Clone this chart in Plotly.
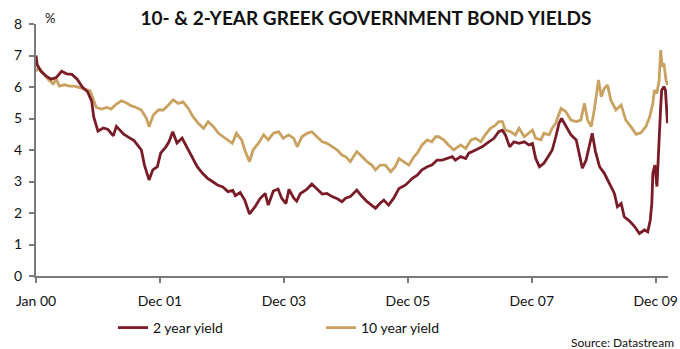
import plotly.graph_objects as go

# ---- data (dates, % yields) ----
dates_2y = [
    "2000-01-03", "2000-01-10", "2000-02-01", "2000-03-01", "2000-04-01", "2000-05-01",
    "2000-06-01", "2000-07-01", "2000-08-01", "2000-09-01", "2000-10-01", "2000-11-01",
    "2000-11-25", "2000-12-07", "2001-01-01", "2001-02-01", "2001-03-01", "2001-04-01",
    "2001-04-19", "2001-06-01", "2001-07-01", "2001-08-01", "2001-09-13", "2001-10-01",
    "2001-10-28", "2001-11-19", "2001-12-16", "2002-01-04", "2002-02-04", "2002-02-22",
    "2002-03-16", "2002-04-10", "2002-05-10", "2002-06-10", "2002-07-07", "2002-08-07",
    "2002-09-07", "2002-10-07", "2002-11-04", "2002-12-04", "2003-01-04", "2003-02-04",
    "2003-03-04", "2003-03-19", "2003-04-16", "2003-05-13", "2003-06-10", "2003-07-13",
    "2003-08-10", "2003-09-10", "2003-09-28", "2003-10-28", "2003-11-25", "2003-12-16",
    "2004-01-10", "2004-01-28", "2004-02-25", "2004-03-13", "2004-04-04", "2004-05-13",
    "2004-06-10", "2004-07-10", "2004-08-10", "2004-09-07", "2004-10-07", "2004-11-07",
    "2004-12-04", "2004-12-25", "2005-01-22", "2005-03-01", "2005-04-01", "2005-05-01",
    "2005-05-28", "2005-06-19", "2005-07-16", "2005-08-07", "2005-09-04", "2005-10-04",
    "2005-11-04", "2005-12-13", "2006-01-22", "2006-02-19", "2006-03-19", "2006-04-19",
    "2006-05-16", "2006-06-16", "2006-07-16", "2006-08-13", "2006-09-13", "2006-10-01",
    "2006-11-01", "2006-12-01", "2006-12-19", "2007-01-28", "2007-03-07", "2007-04-16",
    "2007-05-16", "2007-06-13", "2007-07-04", "2007-07-22", "2007-08-16", "2007-09-10",
    "2007-10-10", "2007-11-10", "2007-12-07", "2007-12-28", "2008-01-16", "2008-02-07",
    "2008-03-04", "2008-04-04", "2008-04-22", "2008-05-13", "2008-06-01", "2008-06-16",
    "2008-07-10", "2008-08-10", "2008-09-10", "2008-09-28", "2008-10-16", "2008-11-07",
    "2008-11-25", "2008-12-13", "2009-01-01", "2009-01-25", "2009-02-22", "2009-03-22",
    "2009-04-22", "2009-05-10", "2009-06-01", "2009-06-19", "2009-07-19", "2009-08-19",
    "2009-09-16", "2009-10-16", "2009-11-04", "2009-11-19", "2009-11-28", "2009-12-04",
    "2009-12-16", "2009-12-28", "2010-01-07", "2010-01-19", "2010-01-25", "2010-02-07",
    "2010-02-16", "2010-02-28",
]
yield_2y = [
    7.0, 6.7, 6.5, 6.35, 6.25, 6.3,
    6.5, 6.42, 6.4, 6.25, 6.0, 5.85,
    5.55, 5.05, 4.6, 4.7, 4.65, 4.45,
    4.75, 4.5, 4.4, 4.3, 4.0, 3.52,
    3.05, 3.37, 3.47, 3.9, 4.1, 4.26,
    4.58, 4.22, 4.38, 4.06, 3.75, 3.47,
    3.26, 3.1, 3.0, 2.89, 2.83, 2.68,
    2.72, 2.55, 2.65, 2.41, 1.97, 2.2,
    2.45, 2.62, 2.25, 2.7, 2.76, 2.47,
    2.3, 2.75, 2.47, 2.38, 2.62, 2.76,
    2.92, 2.75, 2.6, 2.62, 2.52, 2.45,
    2.36, 2.47, 2.52, 2.73, 2.52, 2.36,
    2.25, 2.15, 2.31, 2.41, 2.25, 2.47,
    2.78, 2.89, 3.1, 3.2, 3.37, 3.47,
    3.52, 3.68, 3.68, 3.73, 3.79, 3.68,
    3.79, 3.73, 3.9, 4.0, 4.1, 4.26,
    4.37, 4.58, 4.63, 4.48, 4.1, 4.26,
    4.21, 4.26, 4.16, 4.21, 3.73, 3.47,
    3.58, 3.84, 4.0, 4.42, 4.85, 5.0,
    4.79, 4.48, 4.32, 3.9, 3.42, 3.68,
    4.1, 4.53, 3.95, 3.47, 3.26, 2.94,
    2.62, 2.2, 2.3, 1.88, 1.75, 1.57,
    1.35, 1.46, 1.4, 1.78, 2.31, 3.26,
    3.52, 2.84, 4.21, 5.37, 5.9, 6.01,
    5.9, 4.85,
]

dates_10y = [
    "2000-01-03", "2000-01-19", "2000-02-13", "2000-03-13", "2000-04-13", "2000-05-01",
    "2000-05-19", "2000-06-19", "2000-07-19", "2000-08-16", "2000-09-16", "2000-10-16",
    "2000-11-16", "2000-12-04", "2000-12-22", "2001-01-22", "2001-02-22", "2001-03-19",
    "2001-04-19", "2001-05-19", "2001-06-16", "2001-07-16", "2001-08-04", "2001-09-13",
    "2001-10-13", "2001-10-28", "2001-11-22", "2001-12-22", "2002-01-19", "2002-02-19",
    "2002-03-19", "2002-04-16", "2002-05-16", "2002-06-16", "2002-07-13", "2002-08-13",
    "2002-09-13", "2002-10-10", "2002-11-10", "2002-12-10", "2003-01-07", "2003-02-07",
    "2003-03-01", "2003-03-25", "2003-04-25", "2003-05-13", "2003-06-10", "2003-07-01",
    "2003-08-01", "2003-09-01", "2003-09-28", "2003-10-28", "2003-11-28", "2003-12-25",
    "2004-01-25", "2004-02-25", "2004-03-16", "2004-04-13", "2004-05-13", "2004-06-10",
    "2004-07-10", "2004-08-10", "2004-09-07", "2004-10-07", "2004-11-07", "2004-12-04",
    "2004-12-25", "2005-01-22", "2005-03-01", "2005-04-01", "2005-05-01", "2005-05-28",
    "2005-06-19", "2005-07-16", "2005-08-16", "2005-09-16", "2005-10-13", "2005-11-04",
    "2005-12-01", "2006-01-01", "2006-02-01", "2006-02-19", "2006-03-19", "2006-04-19",
    "2006-05-16", "2006-06-07", "2006-06-25", "2006-07-25", "2006-08-22", "2006-09-22",
    "2006-11-01", "2006-12-01", "2007-01-01", "2007-01-28", "2007-02-28", "2007-03-25",
    "2007-04-25", "2007-05-25", "2007-06-13", "2007-07-04", "2007-07-22", "2007-08-22",
    "2007-09-19", "2007-10-10", "2007-11-10", "2007-12-07", "2007-12-28", "2008-01-16",
    "2008-02-16", "2008-03-04", "2008-04-04", "2008-04-22", "2008-05-13", "2008-05-19",
    "2008-06-13", "2008-07-10", "2008-08-10", "2008-09-10", "2008-10-07", "2008-10-28",
    "2008-11-16", "2008-12-07", "2008-12-25", "2009-01-19", "2009-02-04", "2009-02-22",
    "2009-03-13", "2009-04-01", "2009-05-01", "2009-06-01", "2009-06-28", "2009-07-28",
    "2009-08-28", "2009-09-25", "2009-10-25", "2009-11-16", "2009-12-04", "2009-12-13",
    "2009-12-28", "2010-01-10", "2010-01-19", "2010-01-28", "2010-02-07", "2010-02-19",
    "2010-02-28",
]
yield_10y = [
    6.5, 6.62, 6.45, 6.25, 6.1, 6.25,
    6.03, 6.07, 6.03, 6.03, 5.98, 5.93,
    5.88, 5.62, 5.35, 5.3, 5.35, 5.3,
    5.46, 5.56, 5.5, 5.4, 5.37, 5.27,
    5.0, 4.74, 5.11, 5.27, 5.27, 5.43,
    5.59, 5.48, 5.53, 5.32, 5.06, 4.85,
    4.69, 4.9, 4.74, 4.53, 4.42, 4.32,
    4.21, 4.53, 4.32, 4.0, 3.63, 4.0,
    4.21, 4.48, 4.32, 4.53, 4.58, 4.37,
    4.48, 4.37, 4.1, 4.42, 4.53, 4.58,
    4.42, 4.26, 4.21, 4.1, 4.0, 3.84,
    3.79, 3.63, 3.95, 3.79, 3.63, 3.52,
    3.37, 3.52, 3.52, 3.31, 3.47, 3.73,
    3.63, 3.52, 3.79, 3.9, 4.16, 4.32,
    4.26, 4.42, 4.42, 4.32, 4.16, 4.0,
    4.16, 4.05, 4.32, 4.37, 4.26, 4.48,
    4.69, 4.79, 4.9, 4.9, 4.63, 4.58,
    4.48, 4.69, 4.42, 4.53, 4.63, 4.37,
    4.32, 4.53, 4.48, 4.69, 4.85, 4.95,
    5.32, 5.22, 4.95, 4.9, 4.95, 5.48,
    4.95, 4.74, 5.27, 6.22, 5.69, 5.96,
    6.06, 5.59, 5.27, 5.43, 4.95, 4.74,
    4.5, 4.55, 4.75, 5.06, 5.48, 5.9,
    5.8, 6.22, 7.17, 6.64, 6.75, 6.22,
    6.06,
]

tick_dates = ["2000-01-03", "2001-12-31", "2003-12-29", "2005-12-26", "2007-12-24", "2009-12-21"]
tick_labels = ["Jan 00", "Dec 01", "Dec 03", "Dec 05", "Dec 07", "Dec 09"]
y_ticks = [0, 1, 2, 3, 4, 5, 6, 7, 8]

RED = "#7A1C27"
TAN = "#C9A262"
FONT = "Lato, 'Open Sans', sans-serif"

fig = go.Figure()
fig.add_trace(go.Scatter(x=dates_10y, y=yield_10y, mode="lines", name="10 year yield",
                         line=dict(color=TAN, width=2.8), legendrank=2))
fig.add_trace(go.Scatter(x=dates_2y, y=yield_2y, mode="lines", name="2 year yield",
                         line=dict(color=RED, width=2.8), legendrank=1))

fig.update_layout(
    width=680, height=349,
    margin=dict(l=36, r=12, t=24, b=73, autoexpand=False),
    paper_bgcolor="white", plot_bgcolor="white",
    font=dict(family=FONT, size=14, color="#111111"),
    showlegend=True,
    legend=dict(orientation="h", xref="container", yref="container",
                x=113 / 680, y=1 - 328 / 349, xanchor="left", yanchor="middle",
                font=dict(size=14, color="#111111"),
                entrywidth=163, entrywidthmode="pixels",
                bgcolor="rgba(0,0,0,0)"),
    title=dict(text="<b>10- & 2-YEAR GREEK GOVERNMENT BOND YIELDS</b>",
               x=366 / 680, xanchor="center", y=1 - 18 / 349, yanchor="middle",
               xref="container", yref="container",
               font=dict(family=FONT, size=19, color="#111111")),
    xaxis=dict(type="date", range=["2000-01-03", "2010-03-03"],
               tickvals=tick_dates, ticktext=tick_labels,
               showgrid=False, zeroline=False,
               showline=True, linecolor="#7a7a7a", linewidth=2,
               ticks="outside", ticklen=5, tickwidth=1.5, tickcolor="#7a7a7a",
               tickfont=dict(size=14), ticklabelstandoff=6),
    yaxis=dict(range=[0, 8], tickvals=y_ticks,
               showgrid=False, zeroline=False,
               showline=True, linecolor="#7a7a7a", linewidth=2,
               ticks="outside", ticklen=5, tickwidth=1.5, tickcolor="#7a7a7a",
               tickfont=dict(size=14), ticklabelstandoff=4),
    annotations=[
        dict(text="%", xref="paper", yref="paper", x=(50 - 36) / 632, y=(276 - 18) / 252,
             xanchor="center", yanchor="middle", showarrow=False, font=dict(size=13)),
        dict(text="Source: Datastream", xref="paper", yref="paper",
             x=(676 - 36) / 632, y=(276 - 342) / 252, xanchor="right", yanchor="middle",
             showarrow=False, font=dict(size=12)),
    ],
)

fig.write_html("out.html")
